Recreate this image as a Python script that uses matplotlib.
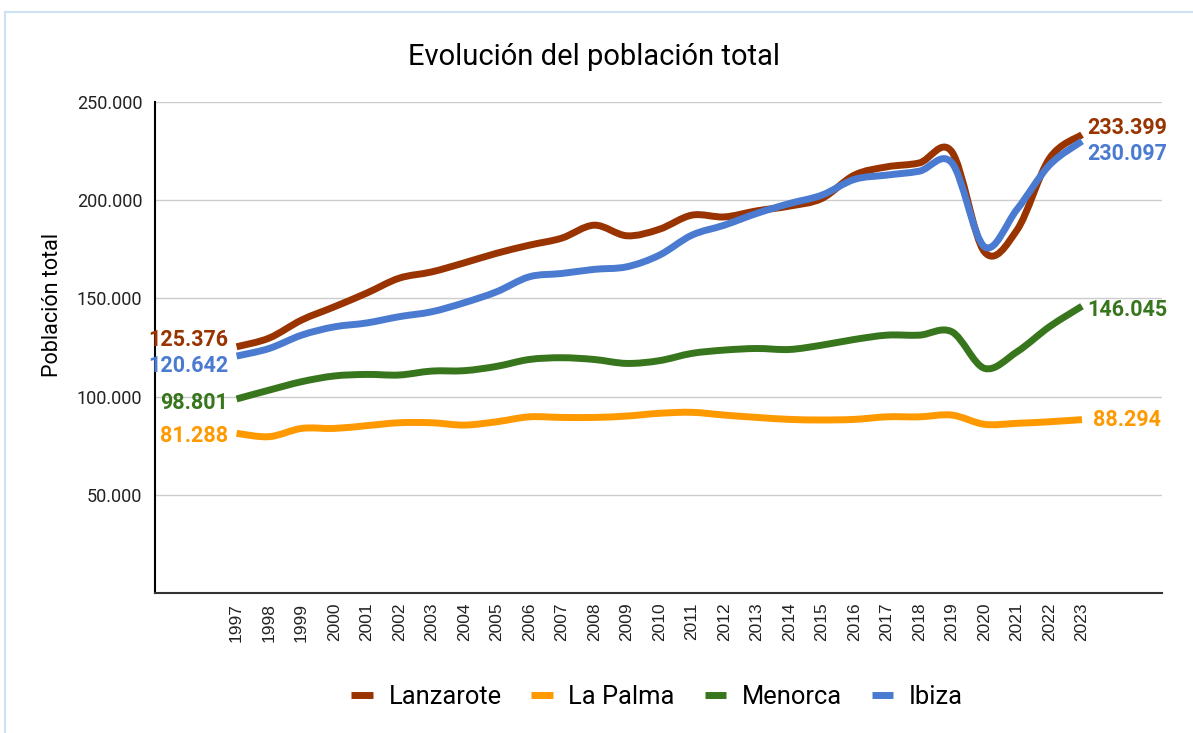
import matplotlib
matplotlib.use("Agg")
import matplotlib.pyplot as plt
from matplotlib.path import Path
from matplotlib.patches import PathPatch, Rectangle
from matplotlib.lines import Line2D
from matplotlib.ticker import FuncFormatter
import numpy as np

plt.rcParams['font.family'] = ['Roboto', 'DejaVu Sans']

# --- data ---
years = list(range(1997, 2024))

lanzarote = [125376, 129800, 139000, 145700, 152700, 160300, 163500, 168100, 173000,
             177100, 180700, 187300, 181900, 185200, 192400, 191500, 194600, 197000,
             200900, 212800, 217000, 219000, 224600, 173700, 184800, 221300, 233399]
la_palma = [81288, 79600, 83800, 83800, 85200, 86700, 86700, 85500, 87200,
            89700, 89400, 89400, 90100, 91500, 92000, 90600, 89400, 88400,
            88100, 88400, 89700, 89700, 90600, 85900, 86400, 87200, 88294]
menorca = [98801, 103300, 107600, 110500, 111300, 111000, 113000, 113200, 115400,
           118900, 119800, 118900, 116900, 118300, 122000, 123700, 124500, 124000,
           126200, 129100, 131300, 131300, 133000, 114400, 122800, 135600, 146045]
ibiza = [120642, 124500, 131300, 135500, 137500, 140700, 143200, 147800, 153400,
         161000, 162700, 164800, 166100, 172000, 182200, 187300, 193300, 198300,
         202600, 210600, 212800, 214800, 219000, 176300, 195300, 217900, 230097]

series_names = ["Lanzarote", "La Palma", "Menorca", "Ibiza"]
series_values = [lanzarote, la_palma, menorca, ibiza]
colors = ["#993300", "#ff9900", "#38761d", "#4a7bd0"]

# label offsets in points (first label, last label)
start_offsets = [(-6, 5), (-6, -2), (-6, -3), (-6, -7)]
end_offsets = [(4, 5), (8, 0), (4, -3), (4, -9)]


def fmt_es(v, pos=None):
    return f"{int(round(v)):,}".replace(",", ".")


def smooth_path(xs, ys, tension=0.5):
    # cubic bezier through every point (catmull-rom style control points)
    xs = np.asarray(xs, float)
    ys = np.asarray(ys, float)
    verts = [(xs[0], ys[0])]
    codes = [Path.MOVETO]
    n = len(xs)
    for i in range(n - 1):
        x0, y0 = (xs[i - 1], ys[i - 1]) if i > 0 else (xs[i], ys[i])
        x1, y1 = xs[i], ys[i]
        x2, y2 = xs[i + 1], ys[i + 1]
        x3, y3 = (xs[i + 2], ys[i + 2]) if i + 2 < n else (x2, y2)
        c1 = (x1 + (x2 - x0) * tension / 3, y1 + (y2 - y0) * tension / 3)
        c2 = (x2 - (x3 - x1) * tension / 3, y2 - (y3 - y1) * tension / 3)
        verts += [c1, c2, (x2, y2)]
        codes += [Path.CURVE4] * 3
    return Path(verts, codes)


fig = plt.figure(figsize=(11.93, 7.33), dpi=100)
ax = fig.add_axes([0.1299, 0.191, 0.8441, 0.6698])

# light blue frame around the chart
fig.patches.append(Rectangle((0.004, -0.01), 1.0, 0.994, transform=fig.transFigure,
                             fill=False, edgecolor="#cfe2f3", linewidth=1.5))

for name, vals, col, so, eo in zip(series_names, series_values, colors,
                                   start_offsets, end_offsets):
    patch = PathPatch(smooth_path(years, vals), facecolor="none", edgecolor=col,
                      linewidth=5, capstyle="butt", joinstyle="round", zorder=3)
    ax.add_patch(patch)
    ax.annotate(fmt_es(vals[0]), (years[0], vals[0]), xytext=so, textcoords="offset points",
                ha="right", va="center", color=col, fontsize=15.5, fontweight="bold")
    ax.annotate(fmt_es(vals[-1]), (years[-1], vals[-1]), xytext=eo, textcoords="offset points",
                ha="left", va="center", color=col, fontsize=15.5, fontweight="bold")

ax.set_xlim(years[0] - 2.51, years[-1] + 2.46)
ax.set_ylim(0, 250000)
ax.set_yticks([50000, 100000, 150000, 200000, 250000])
ax.yaxis.set_major_formatter(FuncFormatter(fmt_es))
ax.set_xticks(years)
ax.set_xticklabels([str(y) for y in years], rotation=90, fontsize=12.5, color="#222222",
                   family=["Liberation Sans", "DejaVu Sans"])
ax.tick_params(axis="y", labelsize=13, labelcolor="#222222", length=0, pad=9)
ax.tick_params(axis="x", length=0, pad=7)
ax.grid(axis="y", color="#cccccc", linewidth=1)
ax.set_axisbelow(True)

for side in ["top", "right"]:
    ax.spines[side].set_visible(False)
ax.spines["left"].set_color("#000000")
ax.spines["left"].set_linewidth(1.5)
ax.spines["bottom"].set_color("#333333")
ax.spines["bottom"].set_linewidth(1.5)

fig.text(0.044, 0.584, "Población total", rotation=90, ha="center", va="center", fontsize=15.5)
fig.text(0.498, 0.922, "Evolución del población total", ha="center", va="center", fontsize=21)

handles = [Line2D([], [], color=c, linewidth=5, solid_capstyle="butt") for c in colors]
fig.legend(handles, series_names, loc="center", bbox_to_anchor=(0.5508, 0.049), ncol=4,
           frameon=False, fontsize=18.4, handlelength=0.84, columnspacing=1.17,
           handletextpad=0.61)

fig.savefig("out.png", dpi=100)
